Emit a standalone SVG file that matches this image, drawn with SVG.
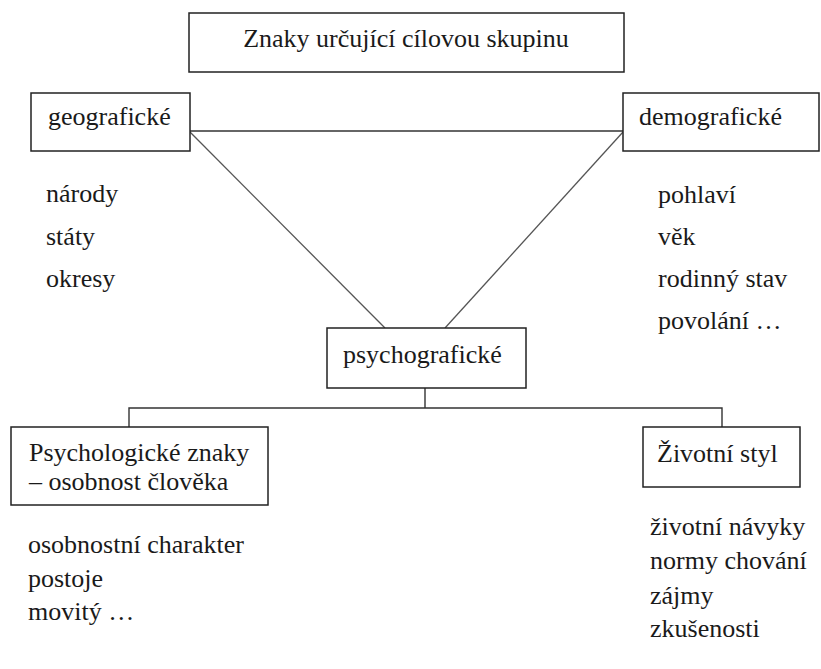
<svg xmlns="http://www.w3.org/2000/svg" width="821" height="669" viewBox="0 0 821 669" font-family="Liberation Serif, DejaVu Serif, serif">
<style>
.box{fill:#fff;stroke:#222;stroke-width:1.5}
.ln{fill:none;stroke:#333;stroke-width:1.4}
.dg{fill:none;stroke:#555;stroke-width:1.3}
.t{font-family:'Liberation Serif','DejaVu Serif',serif;font-size:26px;fill:#1a1a1a}
</style>
<rect width="821" height="669" fill="#fff"/>
<g id="connectors">
<line class="ln" x1="190" y1="131" x2="623" y2="131"/>
<line class="dg" x1="190" y1="132" x2="385" y2="328"/>
<line class="dg" x1="623" y1="132" x2="445" y2="328"/>
<line class="ln" x1="425" y1="388" x2="425" y2="408"/>
<polyline class="ln" points="129,427 129,408 722,408 722,427"/>
</g>
<g id="node-title">
<rect class="box" x="189" y="13" width="435" height="59"/>
<text class="t" x="406" y="47" text-anchor="middle">Znaky určující cílovou skupinu</text>
</g>
<g id="node-geograficke">
<rect class="box" x="31" y="93" width="159" height="58"/>
<text class="t" x="48" y="125">geografické</text>
</g>
<g id="list-geograficke">
<text class="t" x="46" y="202">národy</text>
<text class="t" x="46" y="245">státy</text>
<text class="t" x="46" y="287">okresy</text>
</g>
<g id="node-demograficke">
<rect class="box" x="623" y="93" width="196" height="58"/>
<text class="t" x="639" y="125">demografické</text>
</g>
<g id="list-demograficke">
<text class="t" x="658" y="203">pohlaví</text>
<text class="t" x="658" y="245">věk</text>
<text class="t" x="658" y="287">rodinný stav</text>
<text class="t" x="658" y="329">povolání …</text>
</g>
<g id="node-psychograficke">
<rect class="box" x="327" y="328" width="199" height="60"/>
<text class="t" x="343" y="363">psychografické</text>
</g>
<g id="node-psychologicke">
<rect class="box" x="11" y="427" width="257" height="78"/>
<text class="t" x="29" y="461">Psychologické znaky</text>
<text class="t" x="29" y="490">– osobnost člověka</text>
</g>
<g id="list-psychologicke">
<text class="t" x="28" y="553">osobnostní charakter</text>
<text class="t" x="28" y="587">postoje</text>
<text class="t" x="28" y="620">movitý …</text>
</g>
<g id="node-zivotni-styl">
<rect class="box" x="643" y="427" width="157" height="60"/>
<text class="t" x="657" y="462">Životní styl</text>
</g>
<g id="list-zivotni-styl">
<text class="t" x="650" y="535">životní návyky</text>
<text class="t" x="650" y="569">normy chování</text>
<text class="t" x="650" y="604">zájmy</text>
<text class="t" x="650" y="637">zkušenosti</text>
</g>
</svg>
